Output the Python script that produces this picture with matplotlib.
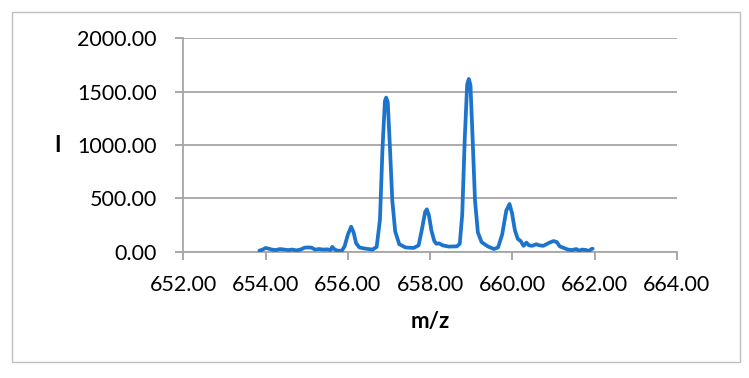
import matplotlib
matplotlib.use("Agg")
from matplotlib import pyplot as plt
from matplotlib.patches import Rectangle

# Spectrum values
mz = [
    653.85, 653.93, 654.00, 654.08, 654.15, 654.25, 654.35, 654.45, 654.55, 654.65,
    654.75, 654.85, 654.95, 655.05, 655.12, 655.20, 655.30, 655.40, 655.50, 655.58,
    655.62, 655.68, 655.75, 655.85, 655.92, 656.00, 656.08, 656.14, 656.20, 656.28,
    656.40, 656.50, 656.60, 656.70, 656.78, 656.84, 656.90, 656.93, 656.97, 657.02,
    657.08, 657.15, 657.25, 657.40, 657.60, 657.72, 657.80, 657.88, 657.92, 657.97,
    658.03, 658.10, 658.15, 658.22, 658.30, 658.45, 658.65, 658.72, 658.78, 658.84,
    658.90, 658.94, 658.98, 659.03, 659.09, 659.16, 659.25, 659.40, 659.55, 659.65,
    659.75, 659.85, 659.93, 659.99, 660.06, 660.13, 660.20, 660.27, 660.34, 660.40,
    660.48, 660.58, 660.65, 660.75, 660.90, 661.00, 661.08, 661.15, 661.25, 661.35,
    661.45, 661.55, 661.62, 661.70, 661.80, 661.85, 661.92, 661.95,
]
intensity = [
    10, 20, 35, 28, 20, 15, 25, 20, 15, 20,
    12, 20, 38, 40, 38, 20, 25, 20, 22, 15,
    45, 20, 10, 8, 50, 160, 234, 180, 80, 40,
    30, 25, 20, 45, 300, 950, 1410, 1444, 1400, 1000,
    480, 190, 70, 40, 35, 60, 210, 375, 397, 340,
    200, 100, 75, 78, 60, 48, 50, 75, 350, 1050,
    1570, 1619, 1560, 1080, 480, 180, 90, 50, 25, 40,
    160, 385, 447, 360, 200, 120, 100, 55, 85, 60,
    55, 70, 60, 55, 85, 100, 90, 50, 35, 20,
    15, 25, 10, 20, 15, 5, 25, 28,
]
x_ticks = [652, 654, 656, 658, 660, 662, 664]
y_ticks = [0, 500, 1000, 1500, 2000]

plt.rcParams["font.family"] = ["Lato", "DejaVu Sans"]

fig = plt.figure(figsize=(7.49, 3.78), dpi=100)
ax = fig.add_axes([183.3 / 749, 1 - 251.7 / 378, (677 - 183.3) / 749, (251.7 - 38.3) / 378])

ax.plot(mz, intensity, color="#1C74CC", lw=2.7, solid_joinstyle="round",
        solid_capstyle="round", zorder=3)

# Axis settings
ax.set_xlim(652, 664)
ax.set_ylim(0, 2000)
ax.set_xticks(x_ticks)
ax.set_yticks(y_ticks)
ax.set_xticklabels([f"{v:.2f}" for v in x_ticks])
ax.set_yticklabels([f"{v:.2f}" for v in y_ticks])
ax.tick_params(labelsize=15.5, colors="#9A9A9A", labelcolor="black", length=6, width=1.2)
ax.tick_params(axis="x", pad=11)
ax.tick_params(axis="y", pad=13)
ax.grid(axis="y", color="#A6A6A6", lw=1.3, zorder=0)
for side in ["top", "right"]:
    ax.spines[side].set_visible(False)
for side in ["left", "bottom"]:
    ax.spines[side].set_color("#A6A6A6")
    ax.spines[side].set_linewidth(1.3)

ax.set_xlabel("m/z", fontsize=16, fontweight="bold", labelpad=11)
ax.set_ylabel("I", fontsize=16, fontweight="bold", rotation=0, labelpad=14, va="center")

# Chart border
fig.patches.append(Rectangle((12 / 749, 1 - 362 / 378), 728 / 749, 350 / 378,
                             transform=fig.transFigure, fill=False,
                             edgecolor="#BFBFBF", lw=1))

plt.savefig("out.png", dpi=100)
